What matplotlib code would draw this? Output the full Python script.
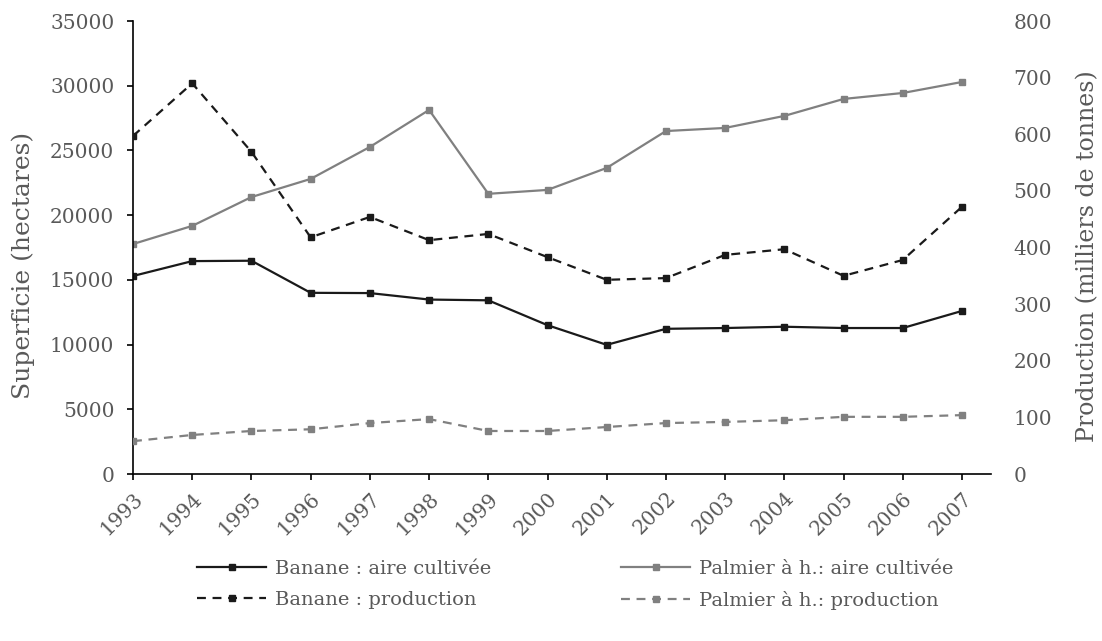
import matplotlib
matplotlib.use("Agg")
import matplotlib.pyplot as plt

# data
years = list(range(1993, 2008))
banane_aire = [15300, 16450, 16480, 14000, 13980, 13480, 13420, 11500, 9980, 11220, 11280, 11380, 11280, 11280, 12600]
palmier_aire = [17770, 19170, 21400, 22800, 25270, 28130, 21650, 21950, 23650, 26500, 26740, 27670, 28980, 29440, 30290]
banane_prod = [597, 690, 569, 418, 454, 413, 424, 383, 343, 346, 387, 397, 350, 378, 472]
palmier_prod = [58, 69, 76, 79, 90, 97, 76, 76, 83, 90, 92, 95, 101, 101, 104]

left_ticks = list(range(0, 35001, 5000))
right_ticks = list(range(0, 801, 100))

BLACK = "#1a1a1a"
GREY = "#808080"
TXT = "#595959"

plt.rcParams["font.family"] = "DejaVu Serif"

fig = plt.figure(figsize=(11.02, 6.41), dpi=100)
ax = fig.add_axes([0.1207, 0.2605, 0.7786, 0.7067])
ax2 = ax.twinx()

l1, = ax.plot(years, banane_aire, color=BLACK, lw=1.6, marker="s", ms=4, label="Banane : aire cultivée")
l2, = ax.plot(years, palmier_aire, color=GREY, lw=1.6, marker="s", ms=4, label="Palmier à h.: aire cultivée")
l3, = ax2.plot(years, banane_prod, color=BLACK, lw=1.6, marker="s", ms=4, ls=(0, (4, 3)), label="Banane : production")
l4, = ax2.plot(years, palmier_prod, color=GREY, lw=1.6, marker="s", ms=4, ls=(0, (4, 3)), label="Palmier à h.: production")

ax.set_xlim(1993, 2007.49)
ax.set_ylim(0, 35000)
ax2.set_ylim(0, 800)
ax.set_yticks(left_ticks)
ax2.set_yticks(right_ticks)
ax.set_xticks(years)
ax.set_xticklabels([str(y) for y in years], rotation=45, ha="right", rotation_mode="anchor")

for a in (ax, ax2):
    for s in ("top", "right"):
        a.spines[s].set_visible(False)
ax2.spines["left"].set_visible(False)
ax2.spines["bottom"].set_visible(False)
ax.spines["left"].set_color("black")
ax.spines["bottom"].set_color("black")
ax.spines["left"].set_linewidth(1.2)
ax.spines["bottom"].set_linewidth(1.2)

ax.tick_params(axis="y", length=4.5, width=1.2, pad=9, labelsize=14.5, labelcolor=TXT)
ax.tick_params(axis="x", length=4.5, width=1.2, pad=6, labelsize=14.5, labelcolor=TXT)
ax2.tick_params(axis="y", length=0, pad=16, labelsize=14.5, labelcolor=TXT)

ax.set_ylabel("Superficie (hectares)", fontsize=18, color=TXT, va="center")
ax2.set_ylabel("Production (milliers de tonnes)", fontsize=17, color=TXT, va="center")
ax.yaxis.set_label_coords(-0.128, 0.46)
ax2.yaxis.set_label_coords(1.113, 0.48)

leg = fig.legend([l1, l3, l2, l4], [l1.get_label(), l3.get_label(), l2.get_label(), l4.get_label()],
                 ncol=2, loc="upper left", bbox_to_anchor=(197 / 1102, 1 - 560 / 641), frameon=False,
                 prop={"size": 14}, labelcolor=TXT, borderpad=0, borderaxespad=0,
                 handlelength=3.55, handletextpad=0.45, columnspacing=6.7, labelspacing=0.65)

fig.savefig("out.png", dpi=100)
